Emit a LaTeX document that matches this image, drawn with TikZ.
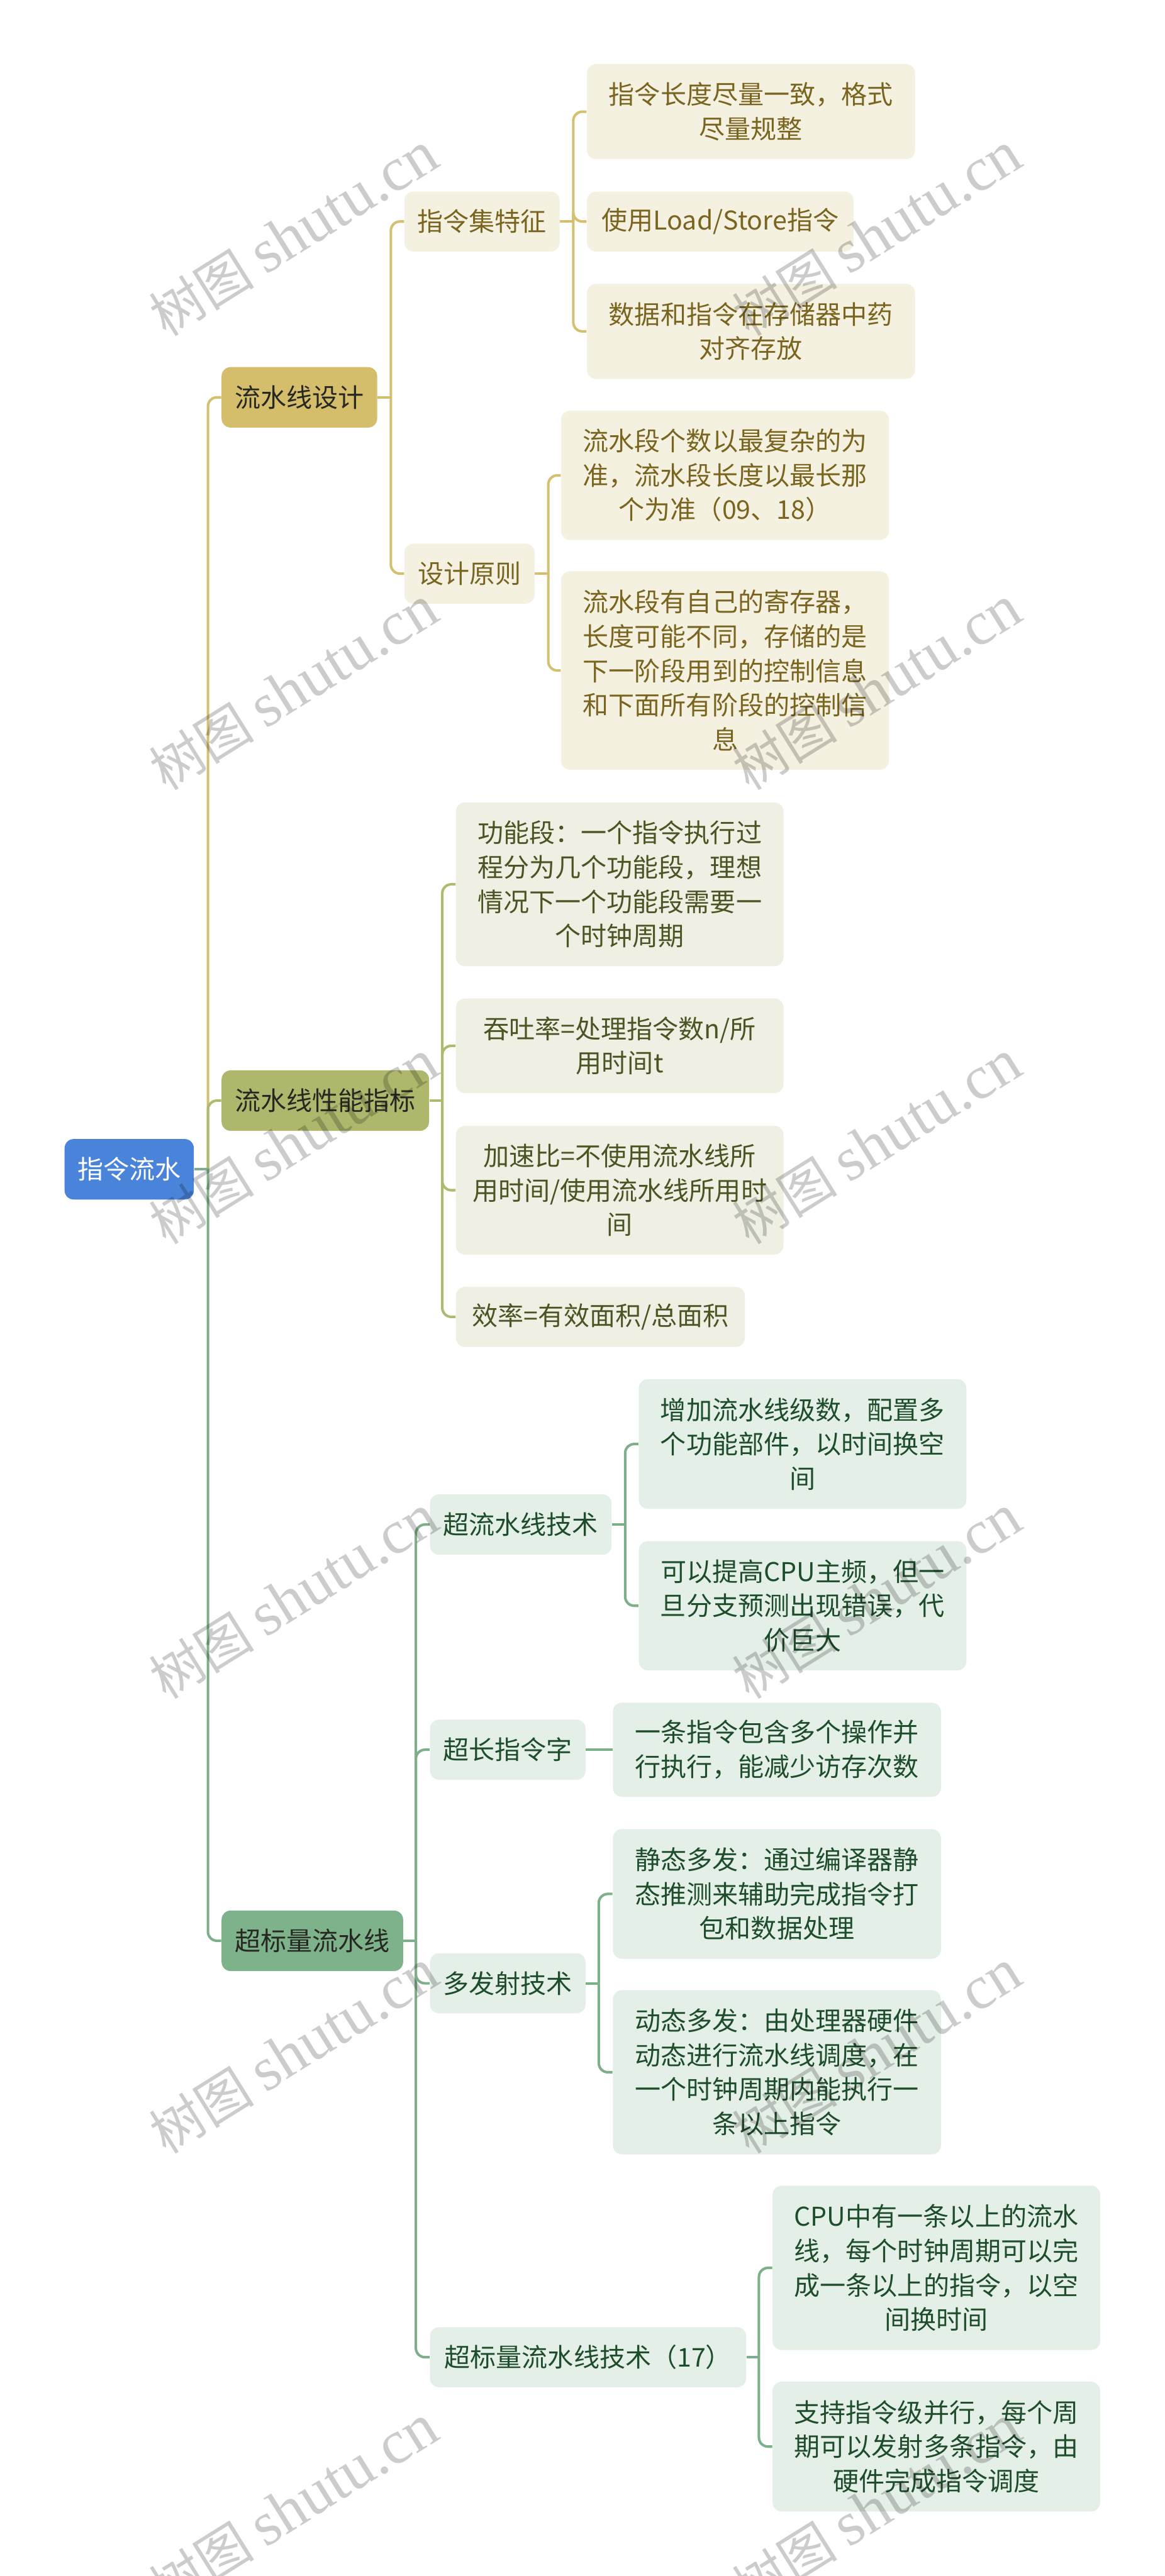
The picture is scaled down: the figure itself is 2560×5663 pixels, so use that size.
\documentclass[tikz,border=0pt]{standalone}
\usepackage{fontspec}
\setmainfont{Noto Sans CJK SC}
\newfontfamily\wmlatin{Liberation Serif}
\newfontfamily\wmcjk{Noto Sans CJK SC}
\definecolor{cRoot}{RGB}{74,132,218}
\definecolor{cGoldA}{RGB}{212,189,107}
\definecolor{cGoldB}{RGB}{244,241,224}
\definecolor{cGoldT}{RGB}{122,101,32}
\definecolor{cGoldL}{RGB}{213,192,112}
\definecolor{cOlvA}{RGB}{174,183,108}
\definecolor{cOlvB}{RGB}{239,240,227}
\definecolor{cOlvT}{RGB}{77,84,36}
\definecolor{cOlvL}{RGB}{176,185,112}
\definecolor{cGrnA}{RGB}{125,178,138}
\definecolor{cGrnB}{RGB}{228,239,231}
\definecolor{cGrnT}{RGB}{30,77,44}
\definecolor{cGrnL}{RGB}{125,176,138}
\definecolor{cTopT}{RGB}{40,40,35}
\tikzset{
  basebox/.style={rounded corners=5pt, inner sep=0pt, align=center, anchor=center,
    font=\fontsize{14.2}{18.9}\selectfont},
  rootbox/.style={basebox, fill=cRoot, text=white},
  goldtop/.style={basebox, fill=cGoldA, text=cTopT},
  goldbox/.style={basebox, fill=cGoldB, text=cGoldT},
  olvtop/.style={basebox, fill=cOlvA, text=cTopT},
  olvbox/.style={basebox, fill=cOlvB, text=cOlvT},
  grntop/.style={basebox, fill=cGrnA, text=cTopT},
  grnbox/.style={basebox, fill=cGrnB, text=cGrnT},
  edge/.style={line width=1.4pt, rounded corners=5pt},
  goldedge/.style={edge, draw=cGoldL},
  olvedge/.style={edge, draw=cOlvL},
  grnedge/.style={edge, draw=cGrnL},
  wmark/.style={rotate=32, text=black, opacity=0.2, inner sep=0pt}
}
\begin{document}
\begin{tikzpicture}[x=0.25pt,y=-0.25pt]
\fill[white] (0,0) rectangle (2560,5663);
\useasboundingbox (0,0) rectangle (2560,5663);

% root
\node[rootbox, minimum width=71pt, minimum height=33.25pt] (r) at (284,2570.5) {指令流水};

% level 1
\node[goldtop, minimum width=85.5pt, minimum height=33.25pt] (d) at (658,873.5) {流水线设计};
\node[olvtop, minimum width=114pt, minimum height=33.25pt] (p) at (715,2419.5) {流水线性能指标};
\node[grntop, minimum width=99.75pt, minimum height=33.25pt] (s) at (686.5,4266.5) {超标量流水线};

% gold branch
\node[goldbox, minimum width=85.25pt, minimum height=33pt] (d1) at (1059.5,487) {指令集特征};
\node[goldbox, minimum width=71.5pt, minimum height=33pt] (d2) at (1032,1261) {设计原则};
\node[goldbox, minimum width=180.25pt, minimum height=52.25pt] (d11) at (1650.5,245.5) {指令长度尽量一致，格式\\尽量规整};
\node[goldbox, minimum width=146.5pt, minimum height=33pt] (d12) at (1583,487) {使用Load/Store指令};
\node[goldbox, minimum width=180.25pt, minimum height=52.25pt] (d13) at (1650.5,728.5) {数据和指令在存储器中药\\对齐存放};
\node[goldbox, minimum width=180.25pt, minimum height=71pt] (d21) at (1593.5,1045) {流水段个数以最复杂的为\\准，流水段长度以最长那\\个为准（09、18）};
\node[goldbox, minimum width=180.25pt, minimum height=109pt] (d22) at (1593.5,1474) {流水段有自己的寄存器，\\长度可能不同，存储的是\\下一阶段用到的控制信息\\和下面所有阶段的控制信\\息};

% olive branch
\node[olvbox, minimum width=180pt, minimum height=90pt] (p1) at (1362,1944) {功能段：一个指令执行过\\程分为几个功能段，理想\\情况下一个功能段需要一\\个时钟周期};
\node[olvbox, minimum width=180pt, minimum height=52pt] (p2) at (1362,2299) {吞吐率=处理指令数n/所\\用时间t};
\node[olvbox, minimum width=180pt, minimum height=70.75pt] (p3) at (1362,2616.5) {加速比=不使用流水线所\\用时间/使用流水线所用时\\间};
\node[olvbox, minimum width=158.75pt, minimum height=33pt] (p4) at (1319.5,2895) {效率=有效面积/总面积};

% green branch
\node[grnbox, minimum width=99.75pt, minimum height=33.25pt] (s1) at (1144.5,3351.5) {超流水线技术};
\node[grnbox, minimum width=85.5pt, minimum height=33pt] (s2) at (1116,3846.5) {超长指令字};
\node[grnbox, minimum width=85.5pt, minimum height=33pt] (s3) at (1116,4360) {多发射技术};
\node[grnbox, minimum width=173.75pt, minimum height=33pt] (s4) at (1292.5,5182) {超标量流水线技术（17）};
\node[grnbox, minimum width=180pt, minimum height=71.25pt] (s11) at (1764,3174.5) {增加流水线级数，配置多\\个功能部件，以时间换空\\间};
\node[grnbox, minimum width=180pt, minimum height=71pt] (s12) at (1764,3530) {可以提高CPU主频，但一\\旦分支预测出现错误，代\\价巨大};
\node[grnbox, minimum width=180.25pt, minimum height=51.75pt] (s21) at (1707.5,3846.5) {一条指令包含多个操作并\\行执行，能减少访存次数};
\node[grnbox, minimum width=180.25pt, minimum height=71.25pt] (s31) at (1707.5,4163.5) {静态多发：通过编译器静\\态推测来辅助完成指令打\\包和数据处理};
\node[grnbox, minimum width=180.25pt, minimum height=90.25pt] (s32) at (1707.5,4555.5) {动态多发：由处理器硬件\\动态进行流水线调度，在\\一个时钟周期内能执行一\\条以上指令};
\node[grnbox, minimum width=180pt, minimum height=90.25pt] (s41) at (2058,4985.5) {CPU中有一条以上的流水\\线，每个时钟周期可以完\\成一条以上的指令，以空\\间换时间};
\node[grnbox, minimum width=180pt, minimum height=71.25pt] (s42) at (2058,5378.5) {支持指令级并行，每个周\\期可以发射多条指令，由\\硬件完成指令调度};

% junctions
\coordinate (jr) at (457,2570.5);
\coordinate (jd) at (859,873.5);
\coordinate (jd1) at (1260,487);
\coordinate (jd2) at (1205,1261);
\coordinate (jp) at (972,2419.5);
\coordinate (js) at (914,4266.5);
\coordinate (js1) at (1374,3351.5);
\coordinate (js3) at (1316,4360);
\coordinate (js4) at (1668,5182);

% root connectors
\draw[goldedge] (jr) |- (d.west);
\draw[olvedge] (jr) |- (p.west);
\draw[grnedge] (jr) |- (s.west);
\draw[grnedge] (r.east) -- (jr);

% gold connectors
\draw[goldedge] (d.east) -- (jd);
\draw[goldedge] (jd) |- (d1.west);
\draw[goldedge] (jd) |- (d2.west);
\draw[goldedge] (d1.east) -- (jd1);
\draw[goldedge] (jd1) |- (d11.west);
\draw[goldedge] (jd1) |- (d12.west);
\draw[goldedge] (jd1) |- (d13.west);
\draw[goldedge] (d2.east) -- (jd2);
\draw[goldedge] (jd2) |- (d21.west);
\draw[goldedge] (jd2) |- (d22.west);

% olive connectors
\draw[olvedge] (p.east) -- (jp);
\draw[olvedge] (jp) |- (p1.west);
\draw[olvedge] (jp) |- (p2.west);
\draw[olvedge] (jp) |- (p3.west);
\draw[olvedge] (jp) |- (p4.west);

% green connectors
\draw[grnedge] (s.east) -- (js);
\draw[grnedge] (js) |- (s1.west);
\draw[grnedge] (js) |- (s2.west);
\draw[grnedge] (js) |- (s3.west);
\draw[grnedge] (js) |- (s4.west);
\draw[grnedge] (s1.east) -- (js1);
\draw[grnedge] (js1) |- (s11.west);
\draw[grnedge] (js1) |- (s12.west);
\draw[grnedge] (s2.east) -- (s21.west);
\draw[grnedge] (s3.east) -- (js3);
\draw[grnedge] (js3) |- (s31.west);
\draw[grnedge] (js3) |- (s32.west);
\draw[grnedge] (s4.east) -- (js4);
\draw[grnedge] (js4) |- (s41.west);
\draw[grnedge] (js4) |- (s42.west);

% watermarks
\foreach \wy [count=\i] in {515,1513,2511,3511,4511,5511}{
  \node[wmark] (wa\i) at (645,\wy) {\wmcjk\fontsize{29}{29}\selectfont 树图 \wmlatin\fontsize{34}{34}\selectfont shutu.cn};
  \node[wmark] (wb\i) at (1927,\wy) {\wmcjk\fontsize{29}{29}\selectfont 树图 \wmlatin\fontsize{34}{34}\selectfont shutu.cn};
}
\end{tikzpicture}
\end{document}
